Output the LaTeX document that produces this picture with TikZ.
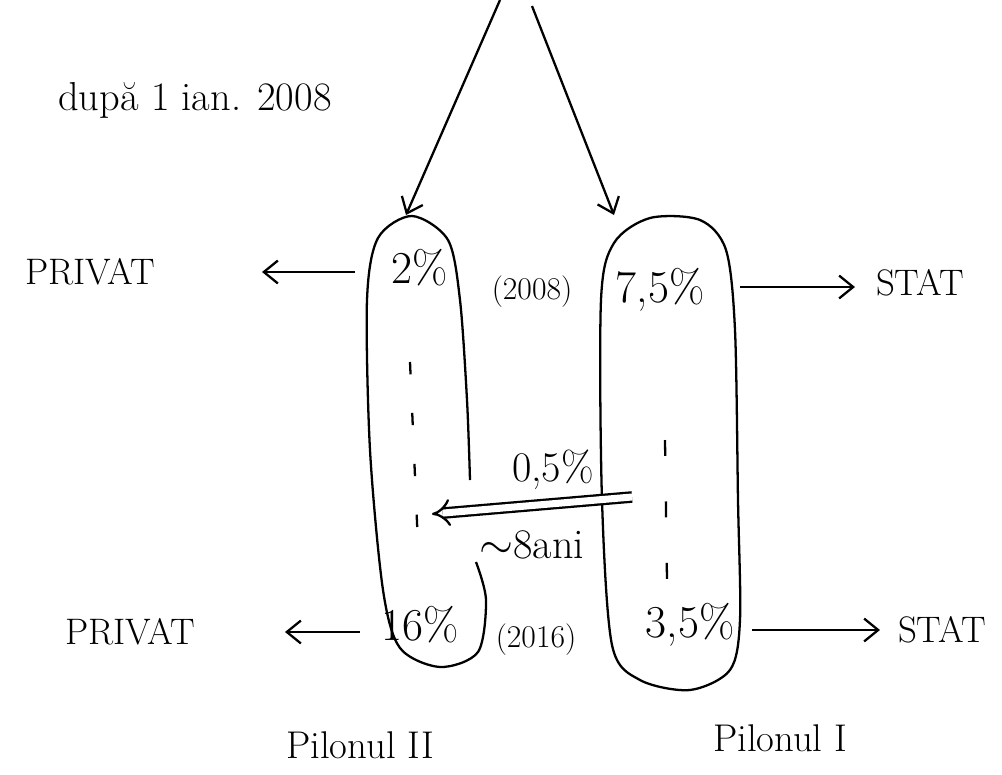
\documentclass[tikz,border=0pt]{standalone}
\usepackage{fontspec}
\usetikzlibrary{arrows.meta}

\tikzset{
  pen/.style={line width=1.3pt},
  arr/.style={pen,-{Straight Barb[length=8pt,width=13pt]}},
  lbl/.style={font=\fontsize{21}{25}\selectfont},
  big/.style={font=\fontsize{26}{30}\selectfont},
  an/.style={font=\fontsize{18}{22}\selectfont},
}

\begin{document}
\begin{tikzpicture}[x=0.02cm,y=-0.02cm]
    \useasboundingbox (0,0) rectangle (1002,775);

    % titlu
    \node[font=\fontsize{23}{27}\selectfont] (titlu) at (195,100) {după 1 ian. 2008};

    % pilonul II (stanga)
    \draw[pen] plot[smooth] coordinates {(470,480) (467,400) (460,300) (448,240) (412,216) (378,238) (367,300) (370,450) (383,590) (400,648) (440,667) (478,652) (486,600) (476,562)};
    \draw[pen,dash pattern=on 7pt off 22pt] (410,362) -- (418,545);

    % pilonul I (dreapta)
    \draw[pen] plot[smooth cycle] coordinates {(601,300) (614,243) (650,218) (700,220) (726,250) (735,330) (738,500) (740,620) (730,670) (690,690) (640,680) (612,645) (602,500)};
    \draw[pen,dash pattern=on 9pt off 26pt] (665,440) -- (667,580);

    % sageti de sus
    \coordinate (s1) at (500,0);
    \coordinate (s2) at (532,6);
    \coordinate (v2) at (406,215);
    \coordinate (v1) at (614,215);
    \draw[arr] (s1) -- (v2);
    \draw[arr] (s2) -- (v1);

    % 2008
    \node[big] (p2) at (420,268) {2\%};
    \node[an] (a08) at (532,292) {(2008)};
    \node[big] (p75) at (660,290) {7,5\%};
    \node[lbl] (priv1) at (90,272) {PRIVAT};
    \node[lbl] (stat1) at (920,283) {STAT};
    \coordinate (c1) at (355,272);
    \coordinate (e1) at (262,272);
    \coordinate (c2) at (740,287);
    \coordinate (e2) at (855,287);
    \draw[arr] (c1) -- (e1);
    \draw[arr] (c2) -- (e2);

    % transfer
    \coordinate (t1) at (632,497);
    \coordinate (t2) at (432,514);
    \draw[pen,double distance=4pt,-{Implies[length=6pt]}] (t1) -- (t2);
    \node[font=\fontsize{24}{28}\selectfont] (tr) at (553,470) {0,5\%};
    \node[font=\fontsize{24}{28}\selectfont] (ani) at (532,545) {$\sim$8ani};

    % 2016
    \node[big] (p16) at (420,625) {16\%};
    \node[an] (a16) at (536,640) {(2016)};
    \node[big] (p35) at (690,625) {3,5\%};
    \node[lbl] (priv2) at (130,632) {PRIVAT};
    \node[lbl] (stat2) at (942,630) {STAT};
    \coordinate (c3) at (360,632);
    \coordinate (e3) at (285,632);
    \coordinate (c4) at (752,630);
    \coordinate (e4) at (880,630);
    \draw[arr] (c3) -- (e3);
    \draw[arr] (c4) -- (e4);

    % piloni
    \node[font=\fontsize{22}{26}\selectfont] (pII) at (360,745) {Pilonul II};
    \node[font=\fontsize{22}{26}\selectfont] (pI) at (780,738) {Pilonul I};
\end{tikzpicture}
\end{document}
